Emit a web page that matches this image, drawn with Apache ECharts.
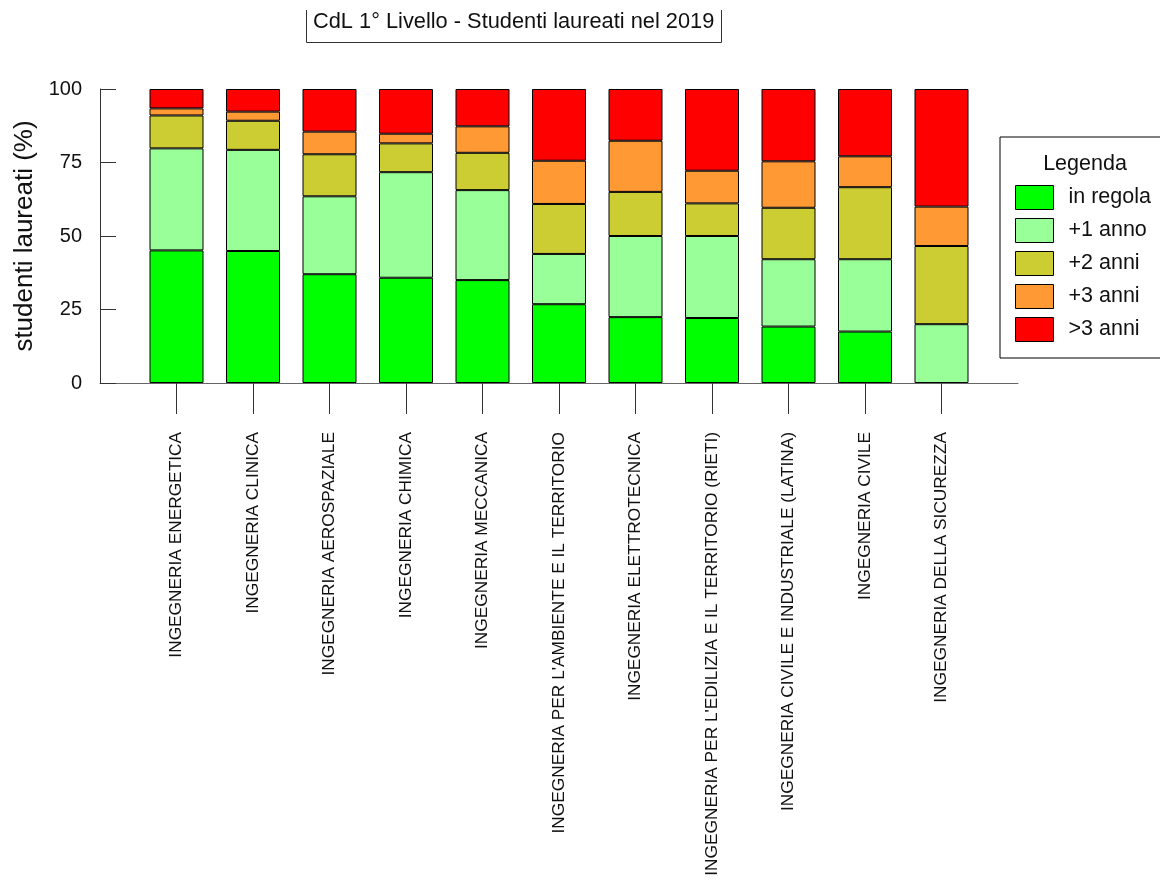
<!DOCTYPE html>
<html>
<head>
<meta charset="utf-8">
<script src="https://cdn.jsdelivr.net/npm/echarts@6/dist/echarts.min.js"></script>
<style>html,body{margin:0;padding:0;background:#fff;}#c{width:1160px;height:880px;}</style>
</head>
<body>
<div id="c"></div>
<script>
var categories = [
  'INGEGNERIA ENERGETICA',
  'INGEGNERIA CLINICA',
  'INGEGNERIA AEROSPAZIALE',
  'INGEGNERIA CHIMICA',
  'INGEGNERIA MECCANICA',
  "INGEGNERIA PER L'AMBIENTE E IL TERRITORIO",
  'INGEGNERIA ELETTROTECNICA',
  "INGEGNERIA PER L'EDILIZIA E IL TERRITORIO (RIETI)",
  'INGEGNERIA CIVILE E INDUSTRIALE (LATINA)',
  'INGEGNERIA CIVILE',
  'INGEGNERIA DELLA SICUREZZA'
];
var inRegola = [45.1, 44.9, 37.0, 35.8, 35.0, 26.8, 22.4, 22.1, 19.2, 17.5, 0];
var piu1Anno = [34.7, 34.4, 26.5, 35.9, 30.6, 17.1, 27.6, 27.9, 22.9, 24.6, 20.0];
var piu2Anni = [11.2, 9.9, 14.3, 9.8, 12.7, 17.0, 15.0, 11.1, 17.5, 24.5, 26.6];
var piu3Anni = [2.4, 3.1, 7.7, 3.3, 9.0, 14.7, 17.4, 11.1, 15.8, 10.5, 13.4];
var oltre3Anni = [6.6, 7.7, 14.5, 15.2, 12.7, 24.4, 17.6, 27.8, 24.6, 22.9, 40.0];
var seriesNames = ['in regola', '+1 anno', '+2 anni', '+3 anni', '>3 anni'];
var seriesColors = ['#00ff00', '#99ff99', '#cccc33', '#ff9933', '#ff0000'];
var yTicks = [0, 25, 50, 75, 100];

var allValues = [inRegola, piu1Anno, piu2Anni, piu3Anni, oltre3Anni];
// pad one empty slot at each end so the axis line spans beyond the bars
var axisCats = [''].concat(categories).concat(['']);
function pad(arr) { return [null].concat(arr.map(function (v) { return v === 0 ? null : v; })).concat([null]); }

var FONT = 'Liberation Sans, Arial, sans-serif';

var series = seriesNames.map(function (n, i) {
  return {
    name: n,
    type: 'bar',
    stack: 'tot',
    barWidth: 54,
    data: pad(allValues[i]),
    itemStyle: { color: seriesColors[i], borderColor: '#000', borderWidth: 1 },
    emphasis: { disabled: true }
  };
});

var chart = echarts.init(document.getElementById('c'), null, { renderer: 'canvas' });
chart.setOption({
  animation: false,
  backgroundColor: '#fff',
  textStyle: { fontFamily: FONT },
  grid: { left: 100, right: 142, top: 89, bottom: 497, containLabel: false },
  xAxis: {
    type: 'category',
    data: axisCats,
    boundaryGap: false,
    axisLine: { show: true, lineStyle: { color: '#666', width: 1 } },
    axisTick: {
      show: true, length: 31,
      interval: function (idx, val) { return val !== ''; },
      lineStyle: { color: '#333', width: 1 }
    },
    axisLabel: {
      interval: 0, rotate: 90, margin: 49,
      fontSize: 17.3, color: '#111', fontFamily: FONT
    },
    splitLine: { show: false }
  },
  yAxis: {
    type: 'value',
    min: 0, max: 100, interval: 25,
    name: 'studenti laureati (%)',
    nameLocation: 'middle',
    nameGap: 58,
    nameTextStyle: { fontSize: 26, color: '#111', fontFamily: FONT },
    axisLine: { show: true, lineStyle: { color: '#333', width: 1 } },
    axisTick: { show: true, inside: true, length: 16, lineStyle: { color: '#333' } },
    axisLabel: {
      margin: 18, fontSize: 20, color: '#111', fontFamily: FONT,
      formatter: function (v) { return yTicks.indexOf(v) >= 0 ? String(v) : ''; }
    },
    splitLine: { show: false }
  },
  legend: {
    orient: 'vertical',
    left: 1000, top: 137,
    padding: [48, 40, 16, 15],
    itemWidth: 38, itemHeight: 24, itemGap: 8,
    borderColor: '#000', borderWidth: 1,
    icon: 'rect',
    itemStyle: { borderColor: '#000', borderWidth: 1 },
    textStyle: { fontSize: 21.5, color: '#111', padding: [0, 0, 0, 10], fontFamily: FONT },
    selectedMode: false,
    data: seriesNames
  },
  graphic: [
    {
      type: 'polyline',
      shape: { points: [[306.5, 10], [306.5, 42.5], [721.5, 42.5], [721.5, 10]] },
      style: { stroke: '#333', lineWidth: 1, fill: null }
    },
    {
      type: 'text', left: 313, top: 11,
      style: { text: 'CdL 1° Livello - Studenti laureati nel 2019', font: '21.8px "Liberation Sans", Arial, sans-serif', fill: '#111' }
    },
    {
      type: 'text', x: 1085, y: 164,
      style: { text: 'Legenda', font: '21.5px "Liberation Sans", Arial, sans-serif', fill: '#111', align: 'center', verticalAlign: 'middle' }
    }
  ],
  series: series
});
</script>
</body>
</html>
